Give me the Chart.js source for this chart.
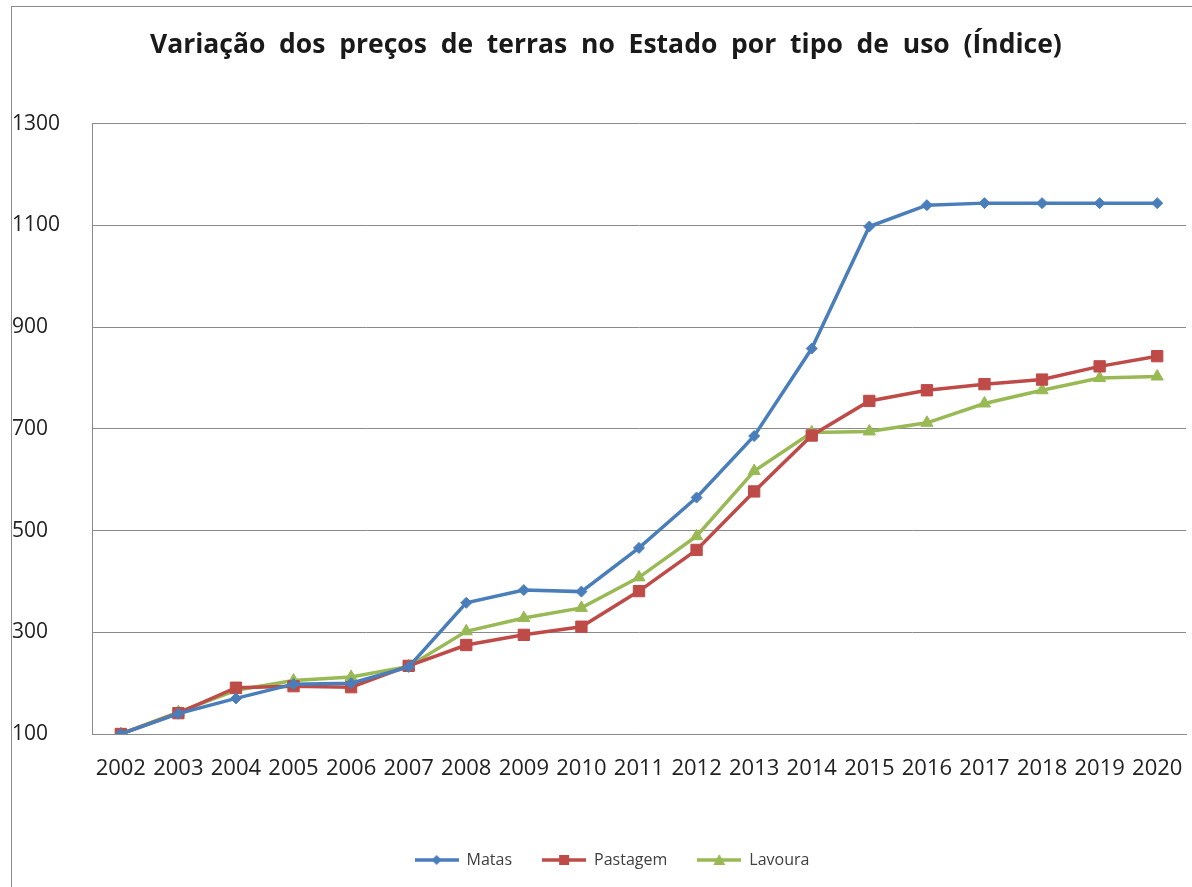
<!DOCTYPE html>
<html>
<head>
<meta charset="utf-8">
<script src="https://cdn.jsdelivr.net/npm/chart.js@4/dist/chart.umd.min.js"></script>
<style>
  html, body { margin: 0; padding: 0; background: #fff; overflow: hidden; }
  #frame { position: absolute; left: 11px; top: 6px; width: 1200px; height: 900px;
           border-left: 1px solid #8c8c8c; border-top: 1px solid #8c8c8c; }
  #wrap { position: absolute; left: 0; top: 0; width: 1192px; height: 887px; }
</style>
</head>
<body>
<div id="frame"></div>
<div id="wrap"><canvas id="chart" width="1192" height="887"></canvas></div>
<script>
const years = ['2002', '2003', '2004', '2005', '2006', '2007', '2008', '2009', '2010', '2011',
  '2012', '2013', '2014', '2015', '2016', '2017', '2018', '2019', '2020'];
const matas = [100, 140, 170, 198, 200, 232, 358, 383, 380, 466, 565, 686, 858, 1098, 1140, 1144, 1144, 1144, 1144];
const pastagem = [100, 141, 191, 194, 192, 234, 275, 295, 311, 381, 462, 577, 687, 755, 776, 788, 797, 823, 843];
const lavoura = [100, 143, 186, 205, 212, 233, 302, 328, 348, 408, 489, 617, 693, 695, 712, 750, 776, 800, 803];

const BLUE = '#4a7ebb';
const RED = '#be4b48';
const GREEN = '#98b954';
const FONT = "'Open Sans', sans-serif";

// little line+marker swatch for the legend
function swatch(color, style) {
  const c = document.createElement('canvas');
  c.width = 44; c.height = 14;
  const g = c.getContext('2d');
  g.strokeStyle = color; g.lineWidth = 3.5;
  g.beginPath(); g.moveTo(0, 7); g.lineTo(44, 7); g.stroke();
  g.fillStyle = color;
  g.beginPath();
  if (style === 'rectRot') { g.moveTo(22, 2); g.lineTo(27, 7); g.lineTo(22, 12); g.lineTo(17, 7); }
  else if (style === 'rect') { g.rect(17, 2, 10, 10); }
  else { g.moveTo(22, 1); g.lineTo(28, 12); g.lineTo(16, 12); }
  g.closePath(); g.fill();
  return c;
}

const ds = (label, data, color, style, r) => ({
  label, data,
  borderColor: color, backgroundColor: color,
  borderWidth: 3.5, tension: 0,
  pointStyle: style, pointRadius: r, pointHoverRadius: r,
  pointBackgroundColor: color, pointBorderColor: color, pointBorderWidth: 1,
  legendSwatch: swatch(color, style)
});

// legend in the original sits a bit right of centre
const legendShift = {
  id: 'legendShift',
  afterLayout(chart) {
    chart.legend.left += 13;
    chart.legend.right += 13;
  }
};

new Chart(document.getElementById('chart'), {
  type: 'line',
  data: {
    labels: years,
    datasets: [
      ds('Matas', matas, BLUE, 'rectRot', 5.5),
      ds('Pastagem', pastagem, RED, 'rect', 8),
      ds('Lavoura', lavoura, GREEN, 'triangle', 7)
    ]
  },
  plugins: [legendShift],
  options: {
    responsive: false,
    animation: false,
    layout: { autoPadding: false, padding: { left: 12, right: 6, top: 0, bottom: 9 } },
    plugins: {
      title: {
        display: true,
        text: '\u00a0\u00a0Variação  dos  preços  de  terras  no  Estado  por  tipo  de  uso  (Índice)',
        color: '#1a1a1a',
        font: { family: FONT, size: 26.5, weight: 'bold', lineHeight: 1.2 },
        padding: { top: 30, bottom: 62 }
      },
      legend: {
        position: 'bottom',
        labels: {
          usePointStyle: true,
          pointStyleWidth: 44,
          boxHeight: 14,
          padding: 30,
          color: '#404040',
          font: { family: FONT, size: 16 },
          generateLabels(chart) {
            return Chart.defaults.plugins.legend.labels.generateLabels(chart).map(item => {
              item.pointStyle = chart.data.datasets[item.datasetIndex].legendSwatch;
              return item;
            });
          }
        }
      },
      tooltip: { enabled: false }
    },
    scales: {
      x: {
        offset: true,
        grid: { display: false, drawTicks: false },
        border: { display: true, color: '#8a8a8a', width: 1 },
        ticks: {
          autoSkip: false, maxRotation: 0, padding: 22,
          color: '#222', font: { family: FONT, size: 22 }
        },
        afterFit(scale) {
          scale.height = 88;
          scale.paddingLeft = 0;
          scale.paddingRight = 0;
        }
      },
      y: {
        min: 100, max: 1300,
        grid: { color: '#8a8a8a', lineWidth: 1, drawTicks: false },
        border: { display: true, color: '#8a8a8a', width: 1 },
        ticks: {
          stepSize: 200, crossAlign: 'far', padding: 8,
          color: '#222', font: { family: FONT, size: 21 },
          callback: v => String(v)
        },
        afterFit(scale) { scale.width = 80; }
      }
    }
  }
});
</script>
</body>
</html>
